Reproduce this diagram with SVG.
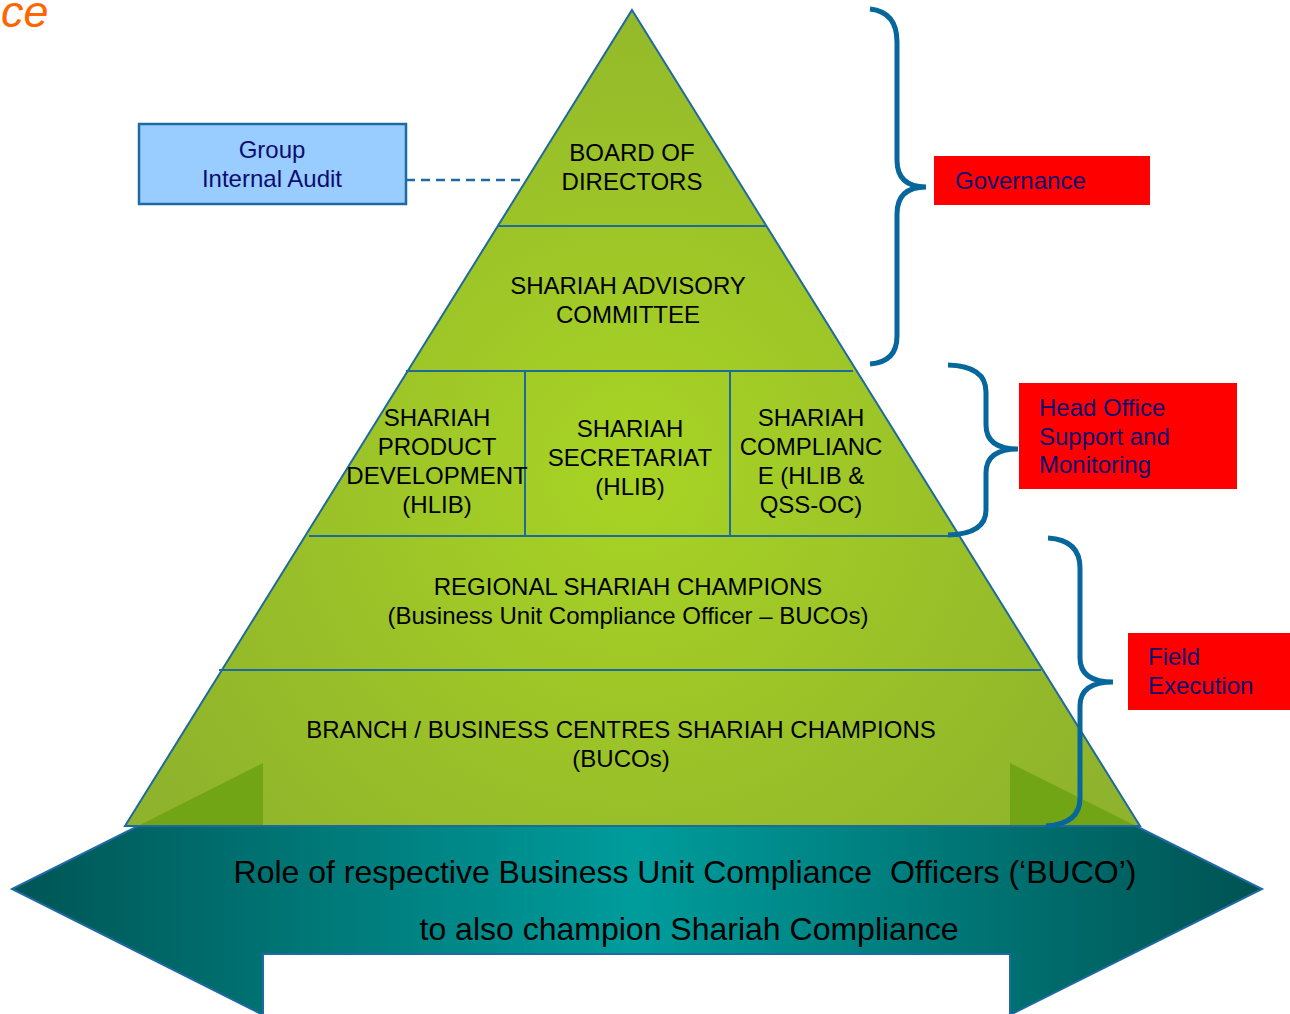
<svg xmlns="http://www.w3.org/2000/svg" width="1290" height="1014" viewBox="0 0 1290 1014">
<defs>
<radialGradient id="pyrGrad" gradientUnits="userSpaceOnUse" cx="632" cy="470" r="560">
<stop offset="0" stop-color="#a8d424"/>
<stop offset="1" stop-color="#8fb32c"/>
</radialGradient>
<linearGradient id="arrowGrad" gradientUnits="userSpaceOnUse" x1="12" y1="0" x2="1262" y2="0">
<stop offset="0" stop-color="#005555"/>
<stop offset="0.5" stop-color="#009c9c"/>
<stop offset="1" stop-color="#005252"/>
</linearGradient>
<style>
.tier{font-family:"Liberation Sans",Arial,sans-serif;font-size:24px;fill:#000;text-anchor:middle}
.lbl{font-family:"Liberation Sans",Arial,sans-serif;font-size:24px;fill:#0c0c70}
.div{stroke:#1f6a9c;stroke-width:2;fill:none}
.brace{stroke:#07679c;stroke-width:5;fill:none;stroke-linecap:butt}
.redbox{fill:#ff0000}
.arrowtxt{font-family:"Liberation Sans",Arial,sans-serif;font-size:32px;fill:#000;text-anchor:middle}
</style>
</defs>
<rect width="1290" height="1014" fill="#ffffff"/>
<text x="1" y="27" font-family="Liberation Sans, Arial, sans-serif" font-size="45" font-style="italic" fill="#ff6600">ce</text>

<g id="bottom-arrow">
<polygon points="138,826 1136,826 1262,889 1010,1015 1010,954 263,954 263,1015 12,889" fill="url(#arrowGrad)" stroke="#1f6aa5" stroke-width="2" stroke-linejoin="miter"/>
<text class="arrowtxt" x="685" y="883" xml:space="preserve">Role of respective Business Unit Compliance  Officers (‘BUCO’)</text>
<text class="arrowtxt" x="689" y="940">to also champion Shariah Compliance</text>
</g>

<g id="pyramid">
<polygon points="632,10 1140,826 125,826" fill="url(#pyrGrad)" stroke="#1f6a9c" stroke-width="2"/>
<polygon points="138,826 263,763 263,826" fill="#71a516"/>
<polygon points="1010,763 1010,826 1136,826" fill="#71a516"/>
<line class="div" x1="498" y1="226" x2="767" y2="226"/>
<line class="div" x1="406" y1="371" x2="853" y2="371"/>
<line class="div" x1="309" y1="536" x2="958" y2="536"/>
<line class="div" x1="219" y1="670" x2="1041" y2="670"/>
<line class="div" x1="525" y1="371" x2="525" y2="536"/>
<line class="div" x1="730" y1="371" x2="730" y2="536"/>
<line x1="125" y1="826" x2="1140" y2="826" stroke="#1f6a9c" stroke-width="2"/>
</g>

<g id="board">
<text class="tier" x="632" y="161">BOARD OF</text>
<text class="tier" x="632" y="190">DIRECTORS</text>
</g>
<g id="shariah-advisory">
<text class="tier" x="628" y="294">SHARIAH ADVISORY</text>
<text class="tier" x="628" y="323">COMMITTEE</text>
</g>
<g id="product-dev">
<text class="tier" x="437" y="426">SHARIAH</text>
<text class="tier" x="437" y="455">PRODUCT</text>
<text class="tier" x="437" y="484">DEVELOPMENT</text>
<text class="tier" x="437" y="513">(HLIB)</text>
</g>
<g id="secretariat">
<text class="tier" x="630" y="437">SHARIAH</text>
<text class="tier" x="630" y="466">SECRETARIAT</text>
<text class="tier" x="630" y="495">(HLIB)</text>
</g>
<g id="compliance">
<text class="tier" x="811" y="426">SHARIAH</text>
<text class="tier" x="811" y="455">COMPLIANC</text>
<text class="tier" x="811" y="484">E (HLIB &amp;</text>
<text class="tier" x="811" y="513">QSS-OC)</text>
</g>
<g id="regional">
<text class="tier" x="628" y="595">REGIONAL SHARIAH CHAMPIONS</text>
<text class="tier" x="628" y="624">(Business Unit Compliance Officer – BUCOs)</text>
</g>
<g id="branch">
<text class="tier" x="621" y="738">BRANCH / BUSINESS CENTRES SHARIAH CHAMPIONS</text>
<text class="tier" x="621" y="767">(BUCOs)</text>
</g>

<g id="internal-audit">
<rect x="139" y="124" width="267" height="80" fill="#99ccff" stroke="#1f6aa0" stroke-width="2.5"/>
<text class="lbl" x="272" y="158" text-anchor="middle">Group</text>
<text class="lbl" x="272" y="187" text-anchor="middle">Internal Audit</text>
</g>

<g id="governance">
<rect class="redbox" x="934" y="156" width="216" height="49"/>
<text class="lbl" x="955" y="189">Governance</text>
</g>
<g id="head-office">
<rect class="redbox" x="1019" y="383" width="218" height="106"/>
<text class="lbl" x="1039" y="416">Head Office</text>
<text class="lbl" x="1039" y="445">Support and</text>
<text class="lbl" x="1039" y="473">Monitoring</text>
</g>
<g id="field-execution">
<rect class="redbox" x="1128" y="633" width="162" height="77"/>
<text class="lbl" x="1148" y="665">Field</text>
<text class="lbl" x="1148" y="694">Execution</text>
</g>

<g id="connectors">
<line x1="406" y1="180" x2="525" y2="180" stroke="#1f6aa0" stroke-width="2.5" stroke-dasharray="9,6"/>
<path class="brace" d="M870,9 Q897,12 897,42 L897,160 Q897,187 926,187 Q897,187 897,214 L897,336 Q897,362 870,364"/>
<path class="brace" d="M948,365 Q986,366 986,392 L986,425 Q986,449 1018,449 Q986,449 986,473 L986,510 Q986,534 948,535"/>
<path class="brace" d="M1048,538 Q1080,540 1080,568 L1080,658 Q1080,682 1113,682 Q1080,682 1080,706 L1080,798 Q1080,824 1046,826"/>
</g>
</svg>
